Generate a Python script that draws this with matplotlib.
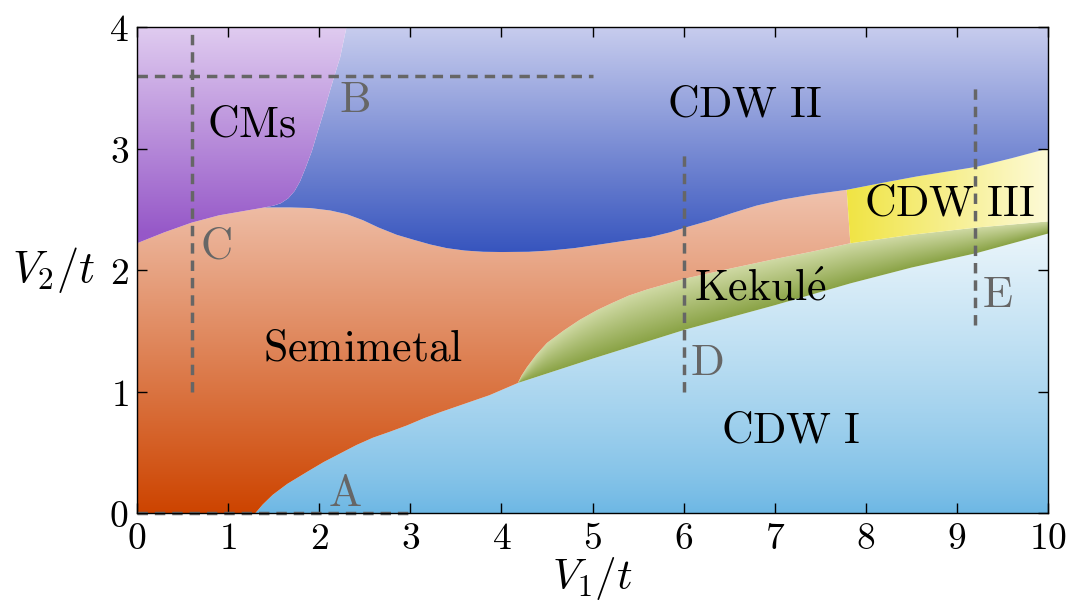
import numpy as np
import matplotlib
matplotlib.use("Agg")
import matplotlib.pyplot as plt
from matplotlib.patches import Polygon

plt.rcParams['mathtext.fontset'] = 'cm'

# phase boundaries (V1/t, V2/t)
# semimetal -> CDW I (lower boundary)
low_x = [1.30, 1.38, 1.49, 1.65, 1.87, 2.05, 2.23, 2.41, 2.59, 2.78, 2.96, 3.15, 3.33, 3.6, 3.87, 4.18]
low_y = [0.0, 0.07, 0.15, 0.24, 0.34, 0.42, 0.49, 0.56, 0.62, 0.67, 0.72, 0.78, 0.83, 0.90, 0.97, 1.07]
# Kekule -> CDW I
kb_x = [4.18, 5.0, 6.02, 7.0, 7.83, 8.5, 9.22, 10.0]
kb_y = [1.07, 1.27, 1.51, 1.71, 1.89, 2.02, 2.14, 2.30]
# semimetal/CDW III -> Kekule
kt_x = [4.18, 4.22, 4.28, 4.38, 4.5, 4.68, 4.86, 5.05, 5.22, 5.4, 5.6, 6.02, 6.5, 7.0, 7.4, 7.83,
        8.5, 9.22, 10.0]
kt_y = [1.07, 1.13, 1.20, 1.30, 1.40, 1.50, 1.59, 1.67, 1.73, 1.79, 1.84, 1.93, 2.01, 2.09, 2.15, 2.22,
        2.29, 2.35, 2.40]
# semimetal -> CMs / CDW II
top_x = [0.0, 0.3, 0.6, 0.9, 1.13, 1.40, 1.68, 1.9, 2.12, 2.3, 2.48, 2.65, 2.85, 3.03, 3.22, 3.4,
         3.6, 3.8, 4.0, 4.3, 4.53, 4.8, 5.08, 5.35, 5.63, 5.85, 6.02, 6.3, 6.54, 6.8, 7.09, 7.4, 7.79]
top_y = [2.22, 2.31, 2.39, 2.45, 2.48, 2.515, 2.515, 2.51, 2.49, 2.46, 2.41, 2.35, 2.29, 2.25, 2.21, 2.18,
         2.16, 2.15, 2.148, 2.15, 2.16, 2.18, 2.21, 2.24, 2.27, 2.31, 2.35, 2.41, 2.47, 2.53, 2.58, 2.62, 2.66]
# CDW III -> CDW II
c3_x = [7.79, 8.2, 8.56, 9.22, 9.6, 10.0]
c3_y = [2.66, 2.72, 2.77, 2.85, 2.92, 3.0]
# CMs -> CDW II
cm_x = [1.40, 1.50, 1.58, 1.66, 1.73, 1.79, 1.85, 1.92, 1.98, 2.05, 2.12, 2.18, 2.23, 2.30]
cm_y = [2.515, 2.53, 2.55, 2.59, 2.65, 2.73, 2.84, 2.98, 3.13, 3.30, 3.48, 3.63, 3.75, 4.0]

# dashed cuts A-E
cut_names = ['A', 'B', 'C', 'D', 'E']
cut_x0 = [0.0, 0.0, 0.6, 6.0, 9.2]
cut_x1 = [3.0, 5.0, 0.6, 6.0, 9.2]
cut_y0 = [0.0, 3.6, 1.0, 1.0, 1.55]
cut_y1 = [0.0, 3.6, 4.0, 2.95, 3.5]
cut_lx = [2.28, 2.39, 0.86, 6.25, 9.44]
cut_ly = [0.16, 3.4, 2.2, 1.24, 1.8]

phase_names = [r'$\mathrm{CDW\ II}$', r'$\mathrm{CMs}$', r'$\mathrm{CDW\ III}$',
               r'$\mathrm{Kekul\acute{e}}$', r'$\mathrm{Semimetal}$', r'$\mathrm{CDW\ I}$']
phase_x = [6.67, 1.26, 8.92, 6.84, 2.48, 7.17]
phase_y = [3.37, 3.2, 2.55, 1.85, 1.36, 0.68]

xticks = [0, 1, 2, 3, 4, 5, 6, 7, 8, 9, 10]
yticks = [0, 1, 2, 3, 4]


def lerp(c0, c1, t):
    c0 = np.array(c0) / 255.0
    c1 = np.array(c1) / 255.0
    t = np.clip(t, 0, 1)[..., None]
    return c0 + (c1 - c0) * t


fig = plt.figure(figsize=(10.77, 6.08), dpi=100)
ax = fig.add_axes([0.1272, 0.1562, 0.8459, 0.7994])

gx = np.linspace(0, 10, 1000)
gy = np.linspace(0, 4, 500)
X, Y = np.meshgrid(gx, gy)

yb = np.interp(X, kb_x, kb_y)
yt = np.interp(X, kt_x, kt_y)

k3 = kt_x.index(7.83)
j0 = top_x.index(1.40)

regions = []
# CDW I
poly = list(zip(low_x, low_y)) + list(zip(kb_x, kb_y))[1:] + [(10, 0), (1.30, 0)]
regions.append((poly, lerp((108, 183, 228), (236, 246, 251), (Y / 2.35) ** 0.8)))
# Kekule
poly = list(zip(kb_x, kb_y)) + list(zip(kt_x, kt_y))[::-1]
regions.append((poly, lerp((138, 163, 70), (208, 218, 165), (Y - yb) / np.maximum(yt - yb, 1e-3))))
# semimetal
poly = ([(0, 0)] + list(zip(low_x, low_y)) + list(zip(kt_x[:k3 + 1], kt_y[:k3 + 1]))[1:]
        + list(zip(top_x, top_y))[::-1])
regions.append((poly, lerp((205, 68, 0), (239, 192, 170), Y / 2.6)))
# CDW III
poly = list(zip(kt_x[k3:], kt_y[k3:])) + list(zip(c3_x, c3_y))[::-1]
regions.append((poly, lerp((240, 228, 68), (253, 250, 215), (X - 7.8) / 2.2)))
# CDW II
poly = (list(zip(cm_x, cm_y))[::-1] + list(zip(top_x[j0:], top_y[j0:]))[1:]
        + list(zip(c3_x, c3_y))[1:] + [(10, 4)])
regions.append((poly, lerp((55, 85, 190), (200, 205, 238), (Y - 2.15) / 1.85)))
# CMs
poly = list(zip(top_x[:j0 + 1], top_y[:j0 + 1])) + list(zip(cm_x, cm_y))[1:] + [(0, 4)]
regions.append((poly, lerp((150, 88, 200), (224, 204, 240), (Y - 2.3) / 1.7)))

for poly, img in regions:
    patch = Polygon(poly, closed=True, facecolor='none', edgecolor='none')
    ax.add_patch(patch)
    im = ax.imshow(img, extent=[0, 10, 0, 4], origin='lower', aspect='auto',
                   interpolation='bilinear', zorder=1)
    im.set_clip_path(patch)

for n, x0, x1, y0, y1, lx, ly in zip(cut_names, cut_x0, cut_x1, cut_y0, cut_y1, cut_lx, cut_ly):
    ax.plot([x0, x1], [y0, y1], color='#666666', lw=2.5, ls=(0, (3, 2)), zorder=3, clip_on=False)
    ax.text(lx, ly, r'$\mathrm{%s}$' % n, color='#666666', fontsize=32,
            ha='center', va='center', zorder=4)

for n, x, y in zip(phase_names, phase_x, phase_y):
    ax.text(x, y, n, color='black', fontsize=31.5, ha='center', va='center', zorder=4)

ax.set_xlim(0, 10)
ax.set_ylim(0, 4)
ax.set_xticks(xticks, ['$%d$' % v for v in xticks])
ax.set_yticks(yticks, ['$%d$' % v for v in yticks])
ax.tick_params(direction='in', length=7, width=1, top=True, right=True, labelsize=27, pad=6)
ax.set_xlabel(r'$V_1/t$', fontsize=31, va='center')
ax.xaxis.set_label_coords(0.5, -0.135)
ax.set_ylabel(r'$V_2/t$', fontsize=32, rotation=0, va='center', ha='center')
ax.yaxis.set_label_coords(-0.092, 0.5)
for s in ax.spines.values():
    s.set_linewidth(1.0)
    s.set_zorder(5)

fig.savefig('out.png', dpi=100)
